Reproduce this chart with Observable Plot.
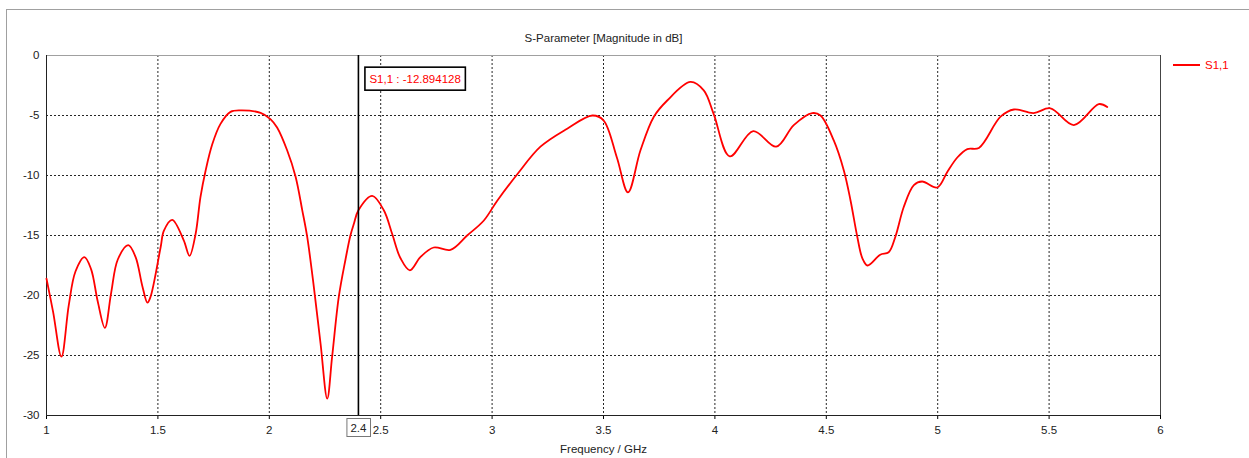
<!DOCTYPE html>
<html><head><meta charset="utf-8">
<script src="https://cdn.jsdelivr.net/npm/d3@7"></script>
<script src="https://cdn.jsdelivr.net/npm/@observablehq/plot@0.6"></script>
<style>
body{margin:0;background:#fff;}
#wrap{position:relative;width:1249px;height:458px;overflow:hidden;font-family:"Liberation Sans",Arial,sans-serif;}
#frame{position:absolute;left:6px;top:9px;width:1260px;height:460px;border-top:1px solid #a0a0a0;border-left:1px solid #a0a0a0;}
#chart{position:absolute;left:0;top:0;}
#legend{position:absolute;left:1173px;top:58px;color:#ff0000;font-size:11.5px;line-height:14px;white-space:nowrap;}
#legend .sw{display:inline-block;width:27px;height:2px;background:#ff0000;vertical-align:middle;margin-right:5px;position:relative;top:-1px;}
</style></head>
<body>
<div id="wrap"><div id="frame"></div><div id="chart"></div><div id="legend"></div></div>
<script>
const freq = [1.000,1.030,1.067,1.100,1.130,1.170,1.200,1.230,1.262,1.290,1.320,1.367,1.400,1.430,1.453,1.467,1.512,1.527,1.564,1.616,1.642,1.669,1.691,1.714,1.744,1.781,1.826,1.871,1.961,2.005,2.035,2.080,2.118,2.148,2.170,2.200,2.230,2.260,2.282,2.312,2.342,2.364,2.380,2.400,2.462,2.514,2.552,2.589,2.631,2.678,2.738,2.813,2.888,2.963,3.023,3.113,3.217,3.337,3.450,3.500,3.560,3.610,3.666,3.726,3.786,3.890,3.950,3.995,4.067,4.172,4.275,4.354,4.437,4.474,4.534,4.579,4.609,4.639,4.662,4.685,4.742,4.780,4.810,4.848,4.893,4.930,4.998,5.043,5.088,5.133,5.185,5.282,5.342,5.430,5.506,5.611,5.723,5.761];
const s11 = [-18.6,-21.4,-25.1,-20.8,-18.0,-16.8,-17.8,-20.5,-22.7,-19.8,-17.0,-15.8,-16.8,-19.2,-20.6,-20.1,-16.0,-14.6,-13.7,-15.4,-16.7,-14.9,-11.8,-9.6,-7.4,-5.7,-4.7,-4.58,-4.78,-5.3,-6.0,-7.9,-10.1,-12.9,-15.1,-19.3,-24.0,-28.6,-25.1,-20.1,-17.0,-15.0,-14.0,-12.9,-11.7,-12.9,-14.9,-16.9,-17.9,-16.8,-16.0,-16.2,-15.0,-13.75,-12.1,-9.9,-7.6,-6.1,-5.0,-5.4,-8.5,-11.4,-7.9,-5.1,-3.75,-2.2,-2.9,-4.9,-8.4,-6.3,-7.6,-5.8,-4.8,-5.0,-7.1,-9.6,-12.1,-15.1,-16.9,-17.5,-16.6,-16.4,-15.1,-12.6,-10.8,-10.5,-11.0,-9.7,-8.5,-7.8,-7.7,-5.1,-4.5,-4.8,-4.4,-5.8,-4.05,-4.3];
const xTicks = [1,1.5,2,2.5,3,3.5,4,4.5,5,5.5,6];
const yTicks = [0,-5,-10,-15,-20,-25,-30];
const markerFreq = [2.4];
const markerValue = [-12.894128];
const seriesName = "S1,1";
const titleText = "S-Parameter [Magnitude in dB]";
const xLabelText = "Frequency / GHz";

const data = freq.map((f, i) => ({f, v: s11[i]}));
const annos = markerFreq.map((f, i) => ({f, label: `${seriesName} : ${markerValue[i]}`}));
const gridStyle = {stroke: "#000", strokeOpacity: 0.85, strokeDasharray: "2,2"};

const chart = Plot.plot({
  width: 1249, height: 458,
  marginLeft: 46, marginRight: 89, marginTop: 55, marginBottom: 43,
  style: {fontFamily: '"Liberation Sans", Arial, sans-serif', fontSize: "11.5px", background: "transparent", color: "#000", overflow: "visible"},
  x: {domain: [1, 6]},
  y: {domain: [-30, 0]},
  marks: [
    Plot.gridX(xTicks.filter(t => t > 1 && t < 6), gridStyle),
    Plot.gridY(yTicks.filter(t => t > -30 && t < 0), gridStyle),
    Plot.axisX(xTicks, {tickSize: 4, tickPadding: 6, tickFormat: d => String(d), label: null, fill: "#222"}),
    Plot.axisY(yTicks, {tickSize: 0, tickPadding: 7, tickFormat: d => String(d), label: null, fill: "#222"}),
    Plot.ruleY([0], {stroke: "#a0a0a0"}),
    Plot.ruleY([-30], {stroke: "#222"}),
    Plot.ruleX([1], {stroke: "#222"}),
    Plot.ruleX([6], {stroke: "#444"}),
    Plot.line(data, {x: "f", y: "v", stroke: "#ff0000", strokeWidth: 1.8, curve: "catmull-rom"}),
    Plot.ruleX(markerFreq, {stroke: "#000", strokeWidth: 1.6}),
    Plot.text(annos, {x: "f", frameAnchor: "top", text: "label", dx: 11, dy: 19, textAnchor: "start", fill: "#ff0000", className: "anno"}),
    Plot.text(markerFreq, {x: d => d, frameAnchor: "bottom", text: d => String(d), dy: 16, fill: "#222", className: "mlabel"}),
    Plot.text([titleText], {frameAnchor: "top", text: d => d, dy: -22, fill: "#222"}),
    Plot.text([xLabelText], {frameAnchor: "bottom", text: d => d, dy: 37, fill: "#222"})
  ]
});
document.getElementById("chart").appendChild(chart);

function boxify(cls, padX, padY, stroke, sw) {
  d3.select(chart).selectAll(`g.${cls} text`).each(function() {
    const b = this.getBBox();
    d3.select(this.parentNode).insert("rect", () => this)
      .attr("x", b.x - padX).attr("y", b.y - padY)
      .attr("width", b.width + 2 * padX).attr("height", b.height + 2 * padY)
      .attr("fill", "#fff").attr("stroke", stroke).attr("stroke-width", sw)
      .attr("transform", this.getAttribute("transform"));
  });
}
boxify("anno", 4.5, 5.5, "#000", 1.6);
boxify("mlabel", 3.5, 3, "#777", 1);

const lg = document.getElementById("legend");
lg.innerHTML = `<span class="sw"></span>${seriesName}`;
</script>
</body></html>
